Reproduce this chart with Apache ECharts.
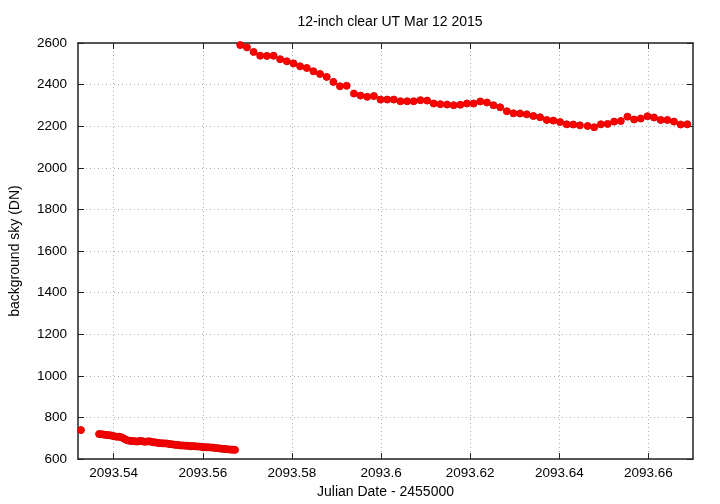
<!DOCTYPE html>
<html>
<head>
<meta charset="utf-8">
<script src="https://cdn.jsdelivr.net/npm/echarts@6/dist/echarts.min.js"></script>
<style>html,body{margin:0;padding:0;background:#fff;}#c{width:720px;height:504px;}</style>
</head>
<body>
<div id="c"></div>
<script>
// Early (lower) block
var jdEarly = [2093.53266,
  2093.53673, 2093.53725, 2093.53770, 2093.53814, 2093.53859, 2093.53904, 2093.53949, 2093.53993,
  2093.54038, 2093.54083, 2093.54128, 2093.54172, 2093.54217, 2093.54262, 2093.54306, 2093.54351,
  2093.54396, 2093.54441, 2093.54485, 2093.54530, 2093.54575, 2093.54620, 2093.54664, 2093.54709,
  2093.54754, 2093.54799, 2093.54843, 2093.54888, 2093.54933, 2093.54978, 2093.55022, 2093.55067,
  2093.55112, 2093.55157, 2093.55201, 2093.55246, 2093.55291, 2093.55336, 2093.55380, 2093.55425,
  2093.55470, 2093.55515, 2093.55559, 2093.55604, 2093.55649, 2093.55694, 2093.55738, 2093.55783,
  2093.55828, 2093.55872, 2093.55917, 2093.55962, 2093.56007, 2093.56051, 2093.56096, 2093.56141,
  2093.56186, 2093.56230, 2093.56275, 2093.56320, 2093.56365, 2093.56409, 2093.56454, 2093.56499,
  2093.56544, 2093.56588, 2093.56633, 2093.56678, 2093.56723];
var skyEarly = [739,
  720, 719, 718, 716, 715, 714, 713, 710,
  708, 707, 707, 705, 700, 694, 690, 688,
  687, 686, 685, 684, 686, 687, 684, 683,
  684, 685, 683, 680, 680, 678, 676, 676,
  675, 675, 674, 672, 671, 670, 668, 668,
  666, 665, 665, 664, 664, 662, 661, 662,
  661, 660, 660, 659, 657, 657, 656, 656,
  655, 655, 653, 652, 651, 650, 649, 648,
  647, 646, 645, 645, 644];

// Later (upper) block
var jdLate = [2093.56841, 2093.56991, 2093.57141, 2093.57289, 2093.57438, 2093.57588, 2093.57736, 2093.57886,
  2093.58036, 2093.58183, 2093.58333, 2093.58483, 2093.58631, 2093.58781, 2093.58931, 2093.59078,
  2093.59228, 2093.59392, 2093.59541, 2093.59691, 2093.59839, 2093.59989, 2093.60139, 2093.60286,
  2093.60436, 2093.60586, 2093.60734, 2093.60884, 2093.61034, 2093.61181, 2093.61331, 2093.61481,
  2093.61629, 2093.61779, 2093.61928, 2093.62076, 2093.62226, 2093.62376, 2093.62523, 2093.62673,
  2093.62823, 2093.62971, 2093.63121, 2093.63270, 2093.63418, 2093.63568, 2093.63718, 2093.63866,
  2093.64016, 2093.64166, 2093.64313, 2093.64463, 2093.64635, 2093.64783, 2093.64933, 2093.65083,
  2093.65230, 2093.65380, 2093.65530, 2093.65678, 2093.65828, 2093.65978, 2093.66125, 2093.66275,
  2093.66425, 2093.66573, 2093.66723, 2093.66872];
var skyLate = [2590, 2579, 2557, 2539, 2538, 2539, 2522, 2512, 2502, 2488,
  2480, 2464, 2451, 2437, 2413, 2392, 2394, 2357, 2347, 2341,
  2345, 2328, 2328, 2328, 2320, 2320, 2320, 2325, 2323, 2309,
  2306, 2304, 2301, 2303, 2309, 2309, 2319, 2314, 2301, 2291,
  2272, 2262, 2261, 2257, 2249, 2243, 2230, 2227, 2220, 2209,
  2208, 2204, 2201, 2195, 2209, 2211, 2222, 2225, 2246, 2232,
  2237, 2248, 2242, 2230, 2230, 2222, 2208, 2209];

var xTicks = [2093.54, 2093.56, 2093.58, 2093.60, 2093.62, 2093.64, 2093.66];
var titleText = '12-inch clear UT Mar 12 2015';
var xName = 'Julian Date - 2455000';
var yName = 'background sky (DN)';

var pts = [];
for (var i = 0; i < jdEarly.length; i++) pts.push([jdEarly[i], skyEarly[i]]);
for (var j = 0; j < jdLate.length; j++) pts.push([jdLate[j], skyLate[j]]);

var FONT = 'Liberation Sans, Arial, sans-serif';
var borderLine = {show: true, lineStyle: {color: '#222', width: 1.5}};
var gridLine = {show: true, lineStyle: {color: '#b0b0b0', width: 1, type: [1, 3]}};
var XMIN = 2093.532, XMAX = 2093.670;

var chart = echarts.init(document.getElementById('c'), null, {renderer: 'canvas'});
chart.setOption({
  animation: false,
  backgroundColor: '#fff',
  title: {
    text: titleText, left: 385, top: 10, textAlign: 'center',
    textStyle: {fontFamily: FONT, fontSize: 14, fontWeight: 'normal', color: '#000'}
  },
  grid: {left: 77, right: 27, top: 43, bottom: 45, containLabel: false},
  xAxis: [{
    type: 'value', min: XMIN, max: XMAX, splitNumber: 7, position: 'bottom',
    name: xName, nameLocation: 'middle', nameGap: 26,
    nameTextStyle: {fontFamily: FONT, fontSize: 14, color: '#000'},
    axisLine: borderLine,
    axisTick: {show: true, inside: true, length: 6, lineStyle: {color: '#222', width: 1}, customValues: xTicks},
    axisLabel: {show: true, margin: 7, fontFamily: FONT, fontSize: 13.5, color: '#000', customValues: xTicks,
      formatter: function (v) { return String(+(+v).toFixed(2)); }},
    splitLine: gridLine
  }, {
    type: 'value', min: XMIN, max: XMAX, splitNumber: 7, position: 'top',
    axisLine: borderLine,
    axisTick: {show: true, inside: true, length: 6, lineStyle: {color: '#222', width: 1}, customValues: xTicks},
    axisLabel: {show: false},
    splitLine: {show: false}
  }],
  yAxis: [{
    type: 'value', min: 600, max: 2600, interval: 200, position: 'left',
    name: yName, nameLocation: 'middle', nameGap: 56, nameRotate: 90,
    nameTextStyle: {fontFamily: FONT, fontSize: 14, color: '#000'},
    axisLine: borderLine,
    axisTick: {show: true, inside: true, length: 6, lineStyle: {color: '#222', width: 1}},
    axisLabel: {show: true, margin: 11, fontFamily: FONT, fontSize: 13.5, color: '#000',
      formatter: function (v) { return String(v); }},
    splitLine: gridLine
  }, {
    type: 'value', min: 600, max: 2600, interval: 200, position: 'right',
    axisLine: borderLine,
    axisTick: {show: true, inside: true, length: 6, lineStyle: {color: '#222', width: 1}},
    axisLabel: {show: false},
    splitLine: {show: false}
  }],
  series: [{
    type: 'scatter', xAxisIndex: 0, yAxisIndex: 0,
    data: pts, symbol: 'circle', symbolSize: 7,
    itemStyle: {color: '#ff0000', borderColor: '#e00000', borderWidth: 1, opacity: 1},
    clip: true
  }]
});
</script>
</body>
</html>
